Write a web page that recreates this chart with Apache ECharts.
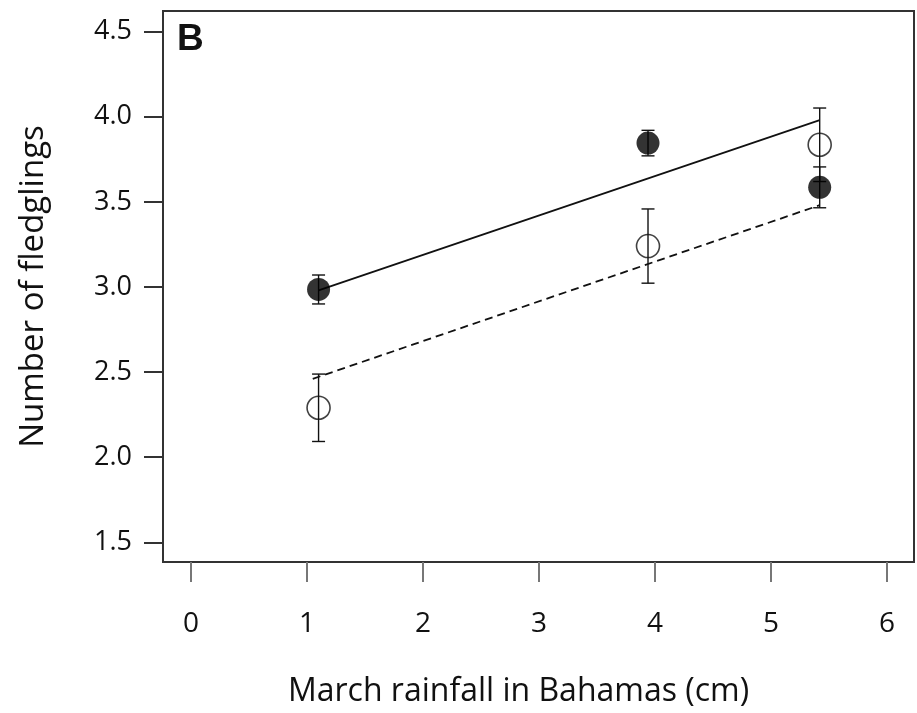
<!DOCTYPE html>
<html>
<head>
<meta charset="utf-8">
<script src="https://cdn.jsdelivr.net/npm/echarts@6/dist/echarts.min.js"></script>
<style>
  html, body { margin: 0; padding: 0; background: #fff; }
  #chart { width: 917px; height: 713px; }
</style>
</head>
<body>
<div id="chart"></div>
<script>
// rainfall (cm) for the three years
const rainfall = [1.1, 3.94, 5.42];
// filled circles: mean and standard error
const filledMean = [2.985, 3.845, 3.585];
const filledErr = [0.085, 0.075, 0.12];
// open circles: mean and standard error
const openMean = [2.29, 3.24, 3.835];
const openErr = [0.198, 0.218, 0.216];
// fitted lines (start / end)
const solidFit = [[1.1, 2.98], [5.42, 3.98]];
const dashedFit = [[1.05, 2.46], [5.42, 3.48]];
const xTicks = [0, 1, 2, 3, 4, 5, 6];
const yTicks = [1.5, 2.0, 2.5, 3.0, 3.5, 4.0, 4.5];

const FONT = 'Open Sans';
const chart = echarts.init(document.getElementById('chart'));

function errData(mean, err) {
  return rainfall.map((x, i) => [x, mean[i] - err[i], mean[i] + err[i]]);
}

function renderErr(params, api) {
  const x = api.value(0);
  const lo = api.coord([x, api.value(1)]);
  const hi = api.coord([x, api.value(2)]);
  const cap = 6.5;
  const style = { stroke: '#111', lineWidth: 1.4 };
  return {
    type: 'group',
    children: [
      { type: 'line', shape: { x1: lo[0], y1: lo[1], x2: hi[0], y2: hi[1] }, style: style },
      { type: 'line', shape: { x1: lo[0] - cap, y1: lo[1], x2: lo[0] + cap, y2: lo[1] }, style: style },
      { type: 'line', shape: { x1: hi[0] - cap, y1: hi[1], x2: hi[0] + cap, y2: hi[1] }, style: style }
    ]
  };
}

const option = {
  animation: false,
  backgroundColor: '#fff',
  grid: {
    left: 163, right: 3, top: 11, bottom: 150,
    show: true, borderColor: '#333', borderWidth: 2, backgroundColor: 'transparent'
  },
  xAxis: {
    type: 'value',
    min: -0.241, max: 6.233,
    name: 'March rainfall in Bahamas (cm)',
    nameLocation: 'middle',
    nameGap: 114,
    nameTextStyle: { fontFamily: FONT, fontSize: 32, color: '#111', padding: [0, 40, 0, 0] },
    axisLine: { show: false, onZero: false },
    axisTick: { show: true, length: 20, customValues: xTicks, lineStyle: { color: '#777', width: 2 } },
    axisLabel: { customValues: xTicks, margin: 48, fontFamily: FONT, fontSize: 28, color: '#111' },
    splitLine: { show: false }
  },
  yAxis: {
    type: 'value',
    min: 1.384, max: 4.621,
    name: 'Number of fledglings',
    nameLocation: 'middle',
    nameGap: 113,
    nameTextStyle: { fontFamily: FONT, fontSize: 33, color: '#111' },
    axisLine: { show: false, onZero: false },
    axisTick: { show: true, length: 19, customValues: yTicks, lineStyle: { color: '#333', width: 2 } },
    axisLabel: {
      customValues: yTicks, margin: 31, fontFamily: FONT, fontSize: 27, color: '#111',
      formatter: v => v.toFixed(1)
    },
    splitLine: { show: false }
  },
  graphic: [{
    type: 'text', left: 177, top: 21,
    style: { text: 'B', font: 'bold 37px "Liberation Sans", Arial, sans-serif', fill: '#111' }
  }],
  series: [
    { type: 'custom', renderItem: renderErr, data: errData(filledMean, filledErr), z: 1 },
    { type: 'custom', renderItem: renderErr, data: errData(openMean, openErr), z: 1 },
    {
      type: 'line', data: solidFit, symbol: 'none', z: 2,
      lineStyle: { color: '#111', width: 1.8, type: 'solid' }
    },
    {
      type: 'line', data: dashedFit, symbol: 'none', z: 2,
      lineStyle: { color: '#111', width: 1.8, type: [8, 5] }
    },
    {
      type: 'scatter', z: 3, symbol: 'circle', symbolSize: 23,
      data: rainfall.map((x, i) => [x, openMean[i]]),
      itemStyle: { color: 'transparent', borderColor: '#111', borderWidth: 1.6 }
    },
    {
      type: 'scatter', z: 4, symbol: 'circle', symbolSize: 23,
      data: rainfall.map((x, i) => [x, filledMean[i]]),
      itemStyle: { color: '#000' }
    }
  ]
};

chart.setOption(option);
</script>
</body>
</html>
